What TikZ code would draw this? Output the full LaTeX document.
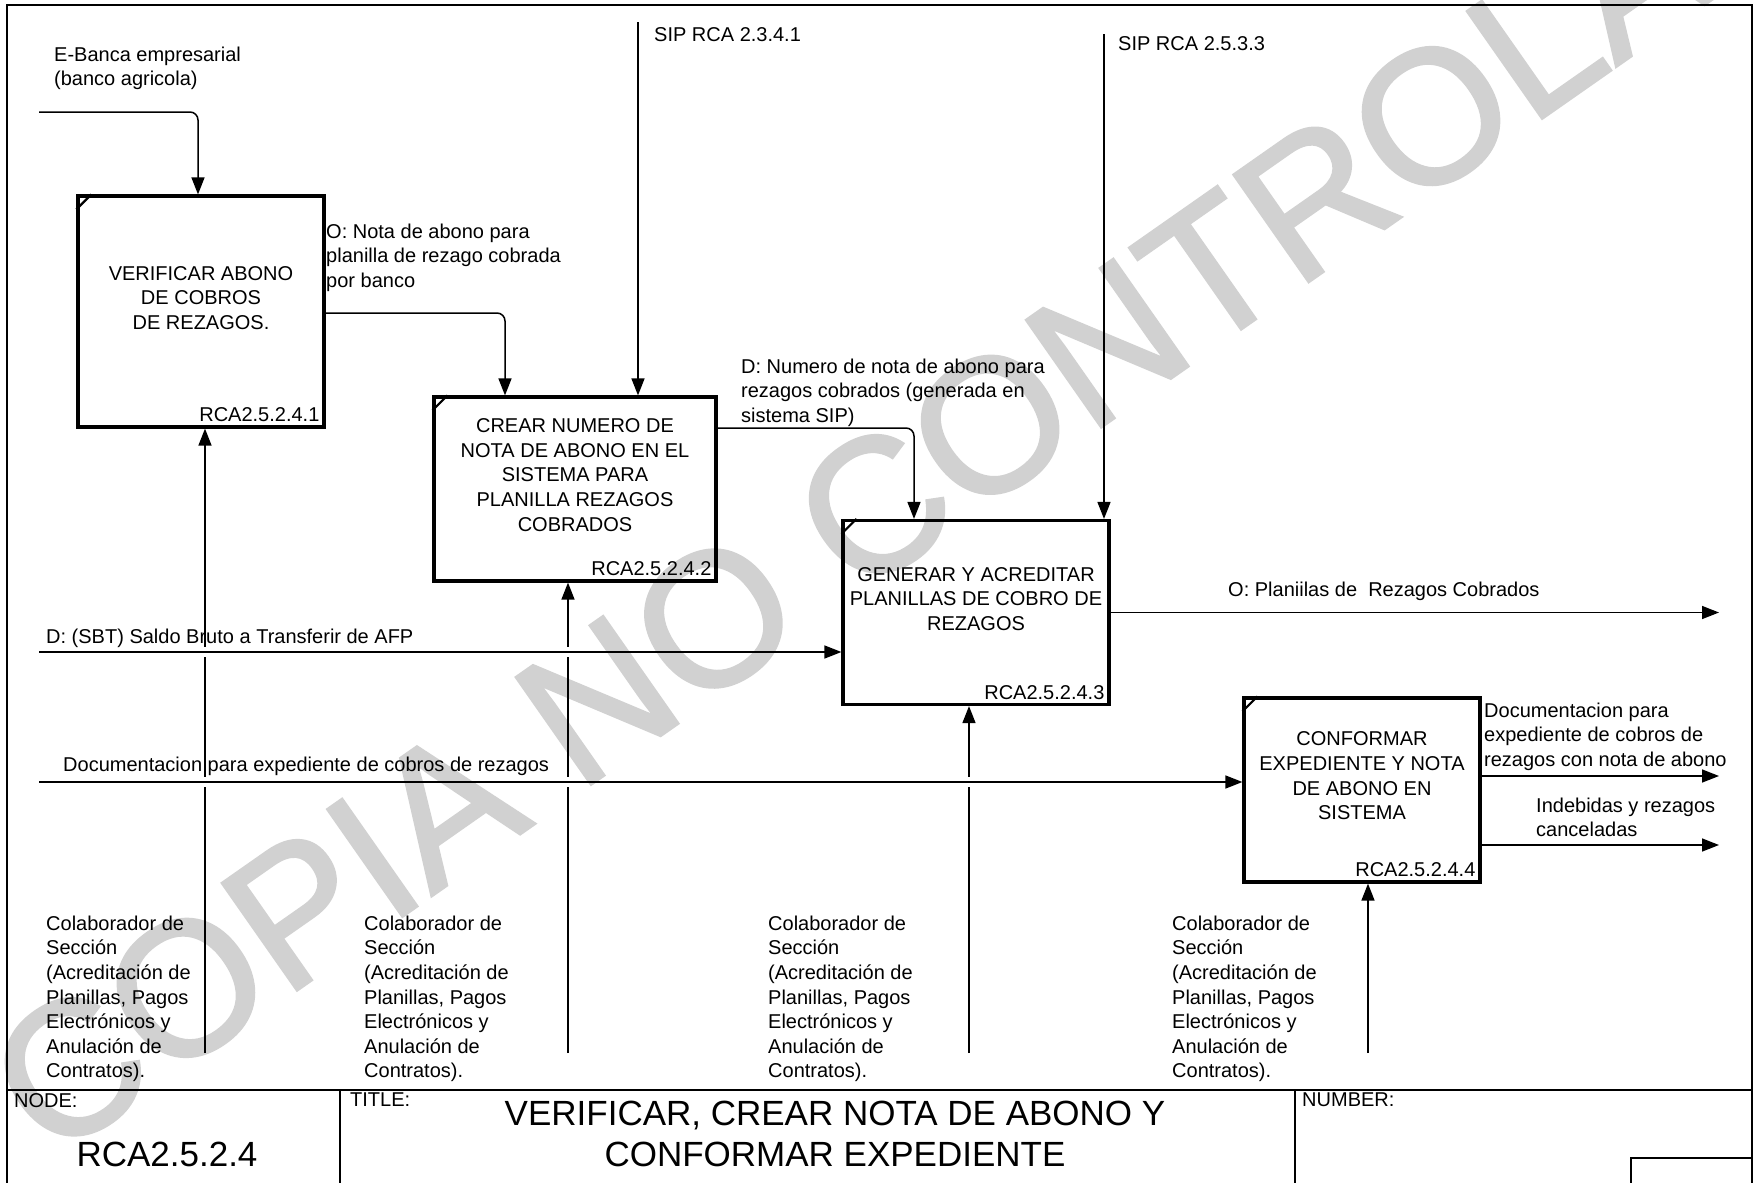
\documentclass[tikz,border=0pt]{standalone}
\usepackage{fontspec}
\setmainfont{Liberation Sans}
\newfontfamily\wmfamily[FakeBold=1.5]{Liberation Sans}
\usetikzlibrary{arrows.meta, positioning, calc}

\newcommand{\bodyfont}{\fontsize{20}{24.6}\selectfont}
\newcommand{\titlefont}{\fontsize{35}{41}\selectfont}

\begin{document}
\begin{tikzpicture}[x=1pt, y=-1pt,
    actbox/.style 2 args={draw, line width=3.2pt, minimum width=#1, minimum height=#2, inner sep=0pt},
    boxtxt/.style={align=center, font=\bodyfont, inner sep=0pt},
    boxid/.style={anchor=base east, font=\bodyfont, inner sep=0pt},
    lbl/.style={anchor=north west, align=left, font=\bodyfont, inner sep=0pt},
    flow/.style={line width=1.5pt, -{Triangle[length=17pt,width=13pt]}},
    frame/.style={line width=2pt},
    corner/.style={line width=2.2pt},
    wmark/.style={text=black!18, font=\wmfamily\fontsize{190}{190}\selectfont, inner sep=0pt}]
    \useasboundingbox (0,0) rectangle (1754,1183);

    % watermark behind everything
    \node[wmark, rotate=35] (copia) at (956,449) {COPIA NO CONTROLADA};

    % sheet frame and title block
    \draw[frame] (7,5) rectangle (1752,1200);
    \draw[frame] (7,1090) -- (1752,1090);
    \draw[frame] (340,1090) -- (340,1200);
    \draw[frame] (1295,1090) -- (1295,1200);
    \draw[frame] (1631,1200) |- (1752,1158);
    \node[lbl] (nodehd) at (14,1093) {NODE:};
    \node[lbl] (titlehd) at (350,1093) {TITLE:};
    \node[lbl] (numberhd) at (1302,1093) {NUMBER:};
    \node[font=\titlefont, inner sep=0pt] (nodeno) at (167,1154) {RCA2.5.2.4};
    \node[font=\titlefont, align=center, inner sep=0pt] (title) at (835,1134)
        {VERIFICAR, CREAR NOTA DE ABONO Y\\CONFORMAR EXPEDIENTE};

    % activity boxes
    \node[actbox={246pt}{231pt}] (a1) at (201,311.5) {};
    \node[actbox={282pt}{184pt}] (a2) at (575,489) {};
    \node[actbox={266pt}{184pt}] (a3) at (976,612.5) {};
    \node[actbox={236pt}{184pt}] (a4) at (1362,790) {};

    \node[boxtxt] (a1txt) at ([yshift=13.5pt]a1.center) {VERIFICAR ABONO\\DE COBROS\\DE REZAGOS.};
    \node[boxtxt] (a2txt) at ([yshift=14pt]a2.center)
        {CREAR NUMERO DE\\NOTA DE ABONO EN EL\\SISTEMA PARA\\PLANILLA REZAGOS\\COBRADOS};
    \node[boxtxt] (a3txt) at ([yshift=13.5pt]a3.center)
        {GENERAR Y ACREDITAR\\PLANILLAS DE COBRO DE\\REZAGOS};
    \node[boxtxt] (a4txt) at ([yshift=14pt]a4.center)
        {CONFORMAR\\EXPEDIENTE Y NOTA\\DE ABONO EN\\SISTEMA};

    \foreach \b/\n in {a1/1, a2/2, a3/3, a4/4} {
        \node[boxid] (\b id) at ([xshift=-6pt, yshift=7pt]\b.south east) {RCA2.5.2.4.\n};
        \draw[corner] ([yshift=-15pt]\b.north west) -- ([xshift=15pt]\b.north west);
    }

    % end points on the sheet
    \coordinate (ebanca) at (39,112);
    \coordinate (sip1) at (638,22);
    \coordinate (sip2) at (1104,34);
    \coordinate (sbt) at (39,652);
    \coordinate (docin) at (39,782);
    \coordinate (out1) at (1719,612.5);
    \coordinate (out2) at (1719,776);
    \coordinate (out3) at (1719,845);
    \coordinate (m1) at (205,1053);
    \coordinate (m2) at (568,1053);
    \coordinate (m3) at (969,1053);
    \coordinate (m4) at (1368,1053);

    % mechanisms and controls
    \foreach \m/\b in {m1/a1, m2/a2, m3/a3, m4/a4}
        \draw[flow] (\m) -- (\m |- \b.south);
    \draw[flow] (sip1) -- (sip1 |- a2.north);
    \draw[flow] (sip2) -- (sip2 |- a3.north);

    % break the verticals where the inputs cross
    \foreach \m/\h in {m1/sbt, m1/docin, m2/sbt, m2/docin, m3/docin}
        \fill[white] ($(\m |- \h)+(-3,-5)$) rectangle ($(\m |- \h)+(3,5)$);

    % inputs and outputs
    \draw[flow, rounded corners=8pt] (ebanca) -| ([xshift=-3pt]a1.north);
    \draw[flow, rounded corners=8pt] ([yshift=-1.5pt]a1.east) -| ([xshift=-70pt]a2.north);
    \draw[flow, rounded corners=8pt] ([yshift=61pt]a2.east) -| ([xshift=-62pt]a3.north);
    \draw[flow] (sbt) -- (sbt -| a3.west);
    \draw[flow] (docin) -- (docin -| a4.west);
    \draw[flow] (a3.east) -- (out1);
    \draw[flow] (out2 -| a4.east) -- (out2);
    \draw[flow] (out3 -| a4.east) -- (out3);

    % arrow labels
    \node[lbl] (ebancalbl) at (54,46.5) {E-Banca empresarial\\(banco agricola)};
    \node[lbl] (notalbl) at (326,223.5) {O: Nota de abono para\\planilla de rezago cobrada\\por banco};
    \node[lbl] (sip1lbl) at (654,27.5) {SIP RCA 2.3.4.1};
    \node[lbl] (sip2lbl) at (1118,36.5) {SIP RCA 2.5.3.3};
    \node[lbl] (numlbl) at (741,358.5) {D: Numero de nota de abono para\\rezagos cobrados (generada en\\sistema SIP)};
    \node[lbl] (sbtlbl) at (46,628.5) {D: (SBT) Saldo Bruto a Transferir de AFP};
    \node[lbl] (doclbl) at (63,756.5) {Documentacion para expediente de cobros de rezagos};
    \node[lbl] (out1lbl) at (1228,581.5) {O: Planiilas de~ Rezagos Cobrados};
    \node[lbl] (out2lbl) at (1484,702.5) {Documentacion para\\expediente de cobros de\\rezagos con nota de abono};
    \node[lbl] (out3lbl) at (1536,797.5) {Indebidas y rezagos\\canceladas};

    % who does the work
    \foreach \m/\x in {m1/46, m2/364, m3/768, m4/1172}
        \node[lbl] (\m lbl) at (\x,915.5) {Colaborador de\\Sección\\(Acreditación de\\Planillas, Pagos\\Electrónicos y\\Anulación de\\Contratos).};
\end{tikzpicture}
\end{document}
